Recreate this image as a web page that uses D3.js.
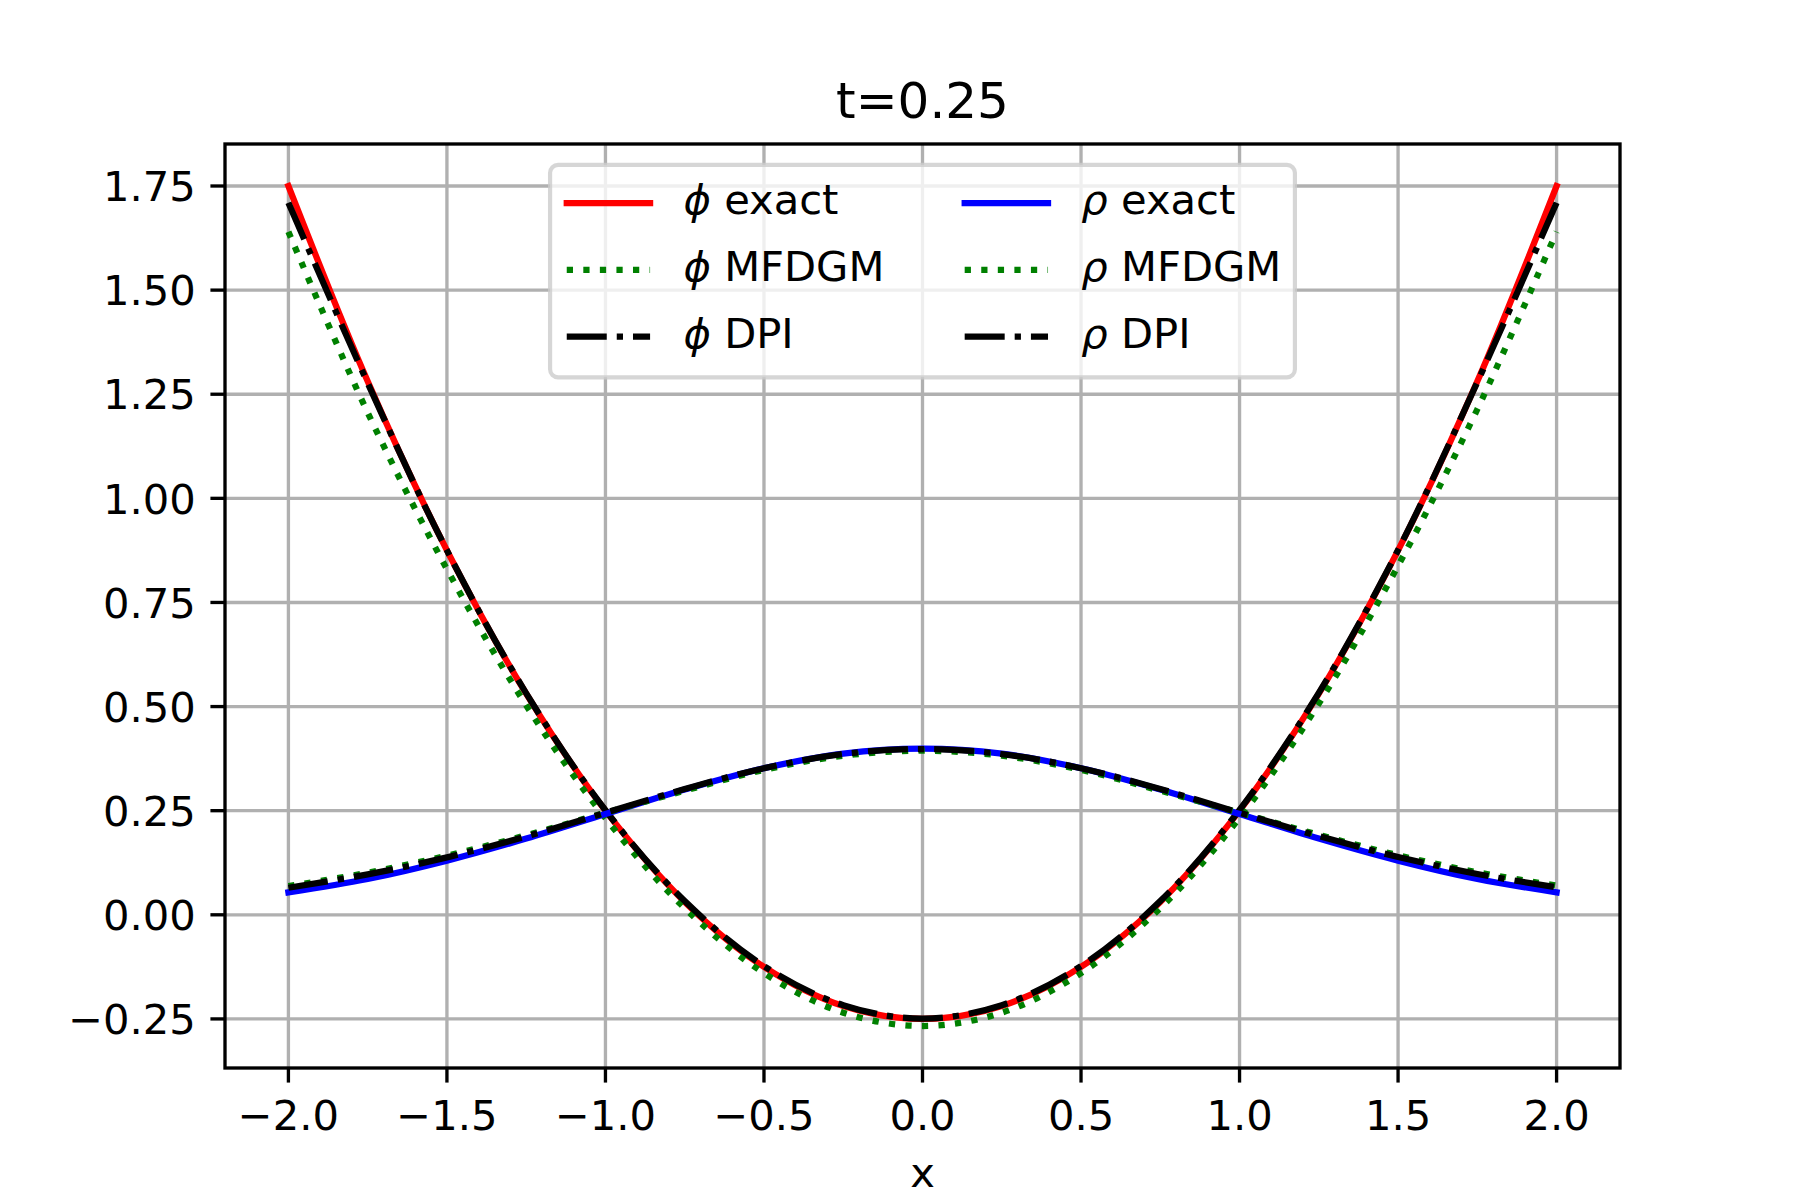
<!doctype html>
<html lang="en">
  <head>
    <meta charset="UTF-8" />
    <title>t=0.25</title>
    <script src="https://cdn.jsdelivr.net/npm/d3@7"></script>
    <style>
      body { margin: 0; background: #fff; }
      svg text { font-family: "DejaVu Sans", sans-serif; fill: #000; }
    </style>
  </head>
  <body>
    <div id="chart"></div>
    <script>
      // values, x from -2 to 2 in steps of 0.25
      const xValues = [-2, -1.75, -1.5, -1.25, -1, -0.75, -0.5, -0.25, 0, 0.25, 0.5, 0.75, 1, 1.25, 1.5, 1.75, 2];

      const phiExact = [1.75, 1.281, 0.875, 0.531, 0.25, 0.031, -0.125, -0.219, -0.25, -0.219, -0.125, 0.031, 0.25, 0.531, 0.875, 1.281, 1.75];
      const phiMfdgm = [1.64, 1.206, 0.830, 0.503, 0.232, 0.016, -0.140, -0.235, -0.267, -0.235, -0.140, 0.016, 0.233, 0.507, 0.838, 1.214, 1.64];
      const phiDpi = [1.71, 1.277, 0.875, 0.532, 0.251, 0.033, -0.123, -0.217, -0.249, -0.217, -0.123, 0.033, 0.252, 0.533, 0.876, 1.279, 1.71];

      const rhoExact = [0.054, 0.086, 0.130, 0.183, 0.242, 0.301, 0.352, 0.387, 0.399, 0.387, 0.352, 0.301, 0.242, 0.183, 0.130, 0.086, 0.054];
      const rhoMfdgm = [0.069, 0.101, 0.142, 0.191, 0.245, 0.298, 0.348, 0.382, 0.394, 0.382, 0.348, 0.298, 0.245, 0.192, 0.143, 0.102, 0.070];
      const rhoDpi = [0.065, 0.097, 0.138, 0.188, 0.245, 0.302, 0.352, 0.386, 0.398, 0.386, 0.352, 0.302, 0.245, 0.189, 0.139, 0.098, 0.066];

      const seriesNames = ["exact", "MFDGM", "DPI"];
      const xTicks = [-2.0, -1.5, -1.0, -0.5, 0.0, 0.5, 1.0, 1.5, 2.0];
      const yTicks = [-0.25, 0.0, 0.25, 0.5, 0.75, 1.0, 1.25, 1.5, 1.75];
      const title = "t=0.25";
      const xLabel = "x";

      // figure is 6x4 in at 300 dpi
      const pt = 300 / 72;
      const width = 1800;
      const height = 1200;
      const marginTop = 144;
      const marginRight = 180;
      const marginBottom = 132;
      const marginLeft = 225;
      const fontSize = 10 * pt;
      const lw = 1.5 * pt;

      // styles for the six lines, in the order they were plotted
      const styles = [
        { sym: "ϕ", name: seriesNames[0], values: phiExact, color: "#ff0000", dash: null },
        { sym: "ϕ", name: seriesNames[1], values: phiMfdgm, color: "#008000", dash: [1, 1.65] },
        { sym: "ϕ", name: seriesNames[2], values: phiDpi, color: "#000000", dash: [6.4, 1.6, 1, 1.6] },
        { sym: "ρ", name: seriesNames[0], values: rhoExact, color: "#0000ff", dash: null },
        { sym: "ρ", name: seriesNames[1], values: rhoMfdgm, color: "#008000", dash: [1, 1.65] },
        { sym: "ρ", name: seriesNames[2], values: rhoDpi, color: "#000000", dash: [6.4, 1.6, 1, 1.6] },
      ];
      const dashStr = (d) => d ? d.map((v) => v * lw).join(",") : null;

      // matplotlib style 5% margins
      const xExt = d3.extent(xValues);
      const xPad = (xExt[1] - xExt[0]) * 0.05;
      const yExt = d3.extent(styles.flatMap((s) => s.values));
      const yPad = (yExt[1] - yExt[0]) * 0.05;

      const x = d3.scaleLinear()
          .domain([xExt[0] - xPad, xExt[1] + xPad])
          .range([marginLeft, width - marginRight]);

      const y = d3.scaleLinear()
          .domain([yExt[0] - yPad, yExt[1] + yPad])
          .range([height - marginBottom, marginTop]);

      const svg = d3.select("#chart").append("svg")
          .attr("width", width)
          .attr("height", height);

      svg.append("rect")
          .attr("width", width)
          .attr("height", height)
          .attr("fill", "#fff");

      // grid
      const grid = svg.append("g").attr("stroke", "#b0b0b0").attr("stroke-width", 0.8 * pt);
      grid.selectAll(".vgrid").data(xTicks).join("line")
          .attr("class", "vgrid")
          .attr("x1", (d) => x(d)).attr("x2", (d) => x(d))
          .attr("y1", marginTop).attr("y2", height - marginBottom);
      grid.selectAll(".hgrid").data(yTicks).join("line")
          .attr("class", "hgrid")
          .attr("x1", marginLeft).attr("x2", width - marginRight)
          .attr("y1", (d) => y(d)).attr("y2", (d) => y(d));

      // lines
      const line = d3.line()
          .x((d, i) => x(xValues[i]))
          .y((d) => y(d))
          .curve(d3.curveCatmullRom.alpha(0.5));

      svg.append("g").selectAll("path").data(styles).join("path")
          .attr("d", (s) => line(s.values))
          .attr("fill", "none")
          .attr("stroke", (s) => s.color)
          .attr("stroke-width", lw)
          .attr("stroke-dasharray", (s) => dashStr(s.dash))
          .attr("stroke-linecap", (s) => s.dash ? "butt" : "square")
          .attr("stroke-linejoin", "round");

      // frame
      svg.append("rect")
          .attr("x", marginLeft)
          .attr("y", marginTop)
          .attr("width", width - marginLeft - marginRight)
          .attr("height", height - marginTop - marginBottom)
          .attr("fill", "none")
          .attr("stroke", "#000")
          .attr("stroke-width", 0.8 * pt)
          .attr("stroke-linecap", "square");

      const tickLen = 3.5 * pt;
      const tickPad = 3.5 * pt;
      const minus = (s) => s.replace("-", "\u2212");

      // x axis
      const xAxis = svg.append("g");
      xAxis.selectAll("line").data(xTicks).join("line")
          .attr("x1", (d) => x(d)).attr("x2", (d) => x(d))
          .attr("y1", height - marginBottom).attr("y2", height - marginBottom + tickLen)
          .attr("stroke", "#000").attr("stroke-width", 0.8 * pt);
      xAxis.selectAll("text").data(xTicks).join("text")
          .attr("x", (d) => x(d))
          .attr("y", height - marginBottom + tickLen + tickPad + 0.785 * fontSize)
          .attr("text-anchor", "middle")
          .attr("font-size", fontSize)
          .text((d) => minus(d3.format(".1f")(d)));

      // y axis
      const yAxis = svg.append("g");
      yAxis.selectAll("line").data(yTicks).join("line")
          .attr("x1", marginLeft - tickLen).attr("x2", marginLeft)
          .attr("y1", (d) => y(d)).attr("y2", (d) => y(d))
          .attr("stroke", "#000").attr("stroke-width", 0.8 * pt);
      yAxis.selectAll("text").data(yTicks).join("text")
          .attr("x", marginLeft - tickLen - tickPad)
          .attr("y", (d) => y(d) + 0.365 * fontSize)
          .attr("text-anchor", "end")
          .attr("font-size", fontSize)
          .text((d) => minus(d3.format(".2f")(d)));

      // title and label
      svg.append("text")
          .attr("x", (marginLeft + width - marginRight) / 2)
          .attr("y", 118)
          .attr("text-anchor", "middle")
          .attr("font-size", 12 * pt)
          .text(title);

      svg.append("text")
          .attr("x", (marginLeft + width - marginRight) / 2)
          .attr("y", 1187)
          .attr("text-anchor", "middle")
          .attr("font-size", fontSize)
          .text(xLabel);

      // legend, two columns, upper center
      const legend = svg.append("g");
      const box = legend.append("rect");
      const borderPad = 0.4 * fontSize;
      const handleLen = 2.0 * fontSize;
      const handlePad = 0.8 * fontSize;
      const colSpacing = 2.0 * fontSize;
      const rowPitch = 1.1 * fontSize + 0.5 * fontSize;
      const legendTop = marginTop + 0.5 * fontSize;
      const firstRow = legendTop + borderPad + 0.52 * fontSize;

      const items = legend.selectAll(".item").data(styles).join("g").attr("class", "item");
      items.append("line")
          .attr("x1", 0).attr("x2", handleLen)
          .attr("y1", 0).attr("y2", 0)
          .attr("stroke", (s) => s.color)
          .attr("stroke-width", lw)
          .attr("stroke-dasharray", (s) => dashStr(s.dash))
          .attr("stroke-linecap", (s) => s.dash ? "butt" : "square");
      const labels = items.append("text")
          .attr("x", handleLen + handlePad)
          .attr("y", 0.27 * fontSize)
          .attr("font-size", fontSize);
      labels.append("tspan").attr("font-style", "italic").text((s) => s.sym);
      labels.append("tspan").text((s) => " " + s.name);

      // mathtext symbol sits a little tighter than the browser's glyph
      const widths = [];
      labels.each(function (s, i) { widths[i] = this.getComputedTextLength() - 3; });
      const col1 = handleLen + handlePad + d3.max(widths.slice(0, 3));
      const col2 = handleLen + handlePad + d3.max(widths.slice(3));
      const legendW = borderPad * 2 + col1 + colSpacing + col2;
      const legendH = borderPad * 2 + 2 * rowPitch + 1.1 * fontSize;
      const legendLeft = (marginLeft + width - marginRight) / 2 - legendW / 2;

      items.attr("transform", (s, i) => {
        const col = Math.floor(i / 3);
        const row = i % 3;
        const lx = legendLeft + borderPad + (col ? col1 + colSpacing : 0);
        return `translate(${lx},${firstRow + row * rowPitch})`;
      });

      box.attr("x", legendLeft)
          .attr("y", legendTop)
          .attr("width", legendW)
          .attr("height", legendH)
          .attr("rx", 8)
          .attr("fill", "#fff")
          .attr("fill-opacity", 0.8)
          .attr("stroke", "#cccccc")
          .attr("stroke-opacity", 0.8)
          .attr("stroke-width", 1.0 * pt);
    </script>
  </body>
</html>
